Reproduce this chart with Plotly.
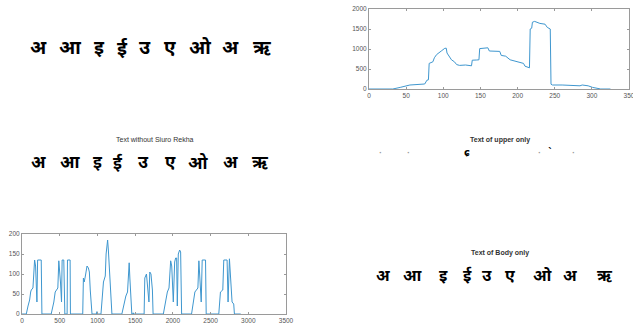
import plotly.graph_objects as go

W, H = 633, 329

# ---------- data ----------
letters = ["अ", "आ", "इ", "ई", "उ", "ए", "ओ", "अ", "ऋ"]

# column-sum profile (top right)
tr_x = [0, 32, 42, 52, 55, 75, 78, 80, 81, 86, 88, 91, 95, 98, 102, 104, 105, 108, 111, 115,
        118, 122, 130, 138, 139, 145, 148, 149, 155, 160, 162, 176, 178, 184, 190, 197, 203, 208,
        210, 214, 216, 217, 219, 220, 223, 230, 237, 240, 243, 244, 245, 247, 260, 284, 287, 295,
        301, 307, 312, 325]
tr_y = [0, 0, 40, 75, 100, 125, 220, 230, 640, 680, 780, 860, 930, 960, 1017, 1020, 900, 820, 730, 680,
        610, 590, 600, 580, 720, 725, 730, 1010, 1020, 1030, 950, 940, 840, 820, 730, 700, 670, 640,
        570, 540, 530, 1500, 1520, 1670, 1690, 1640, 1620, 1540, 1520, 1500, 120, 100, 100, 80, 100, 80,
        40, 20, 0, 0]

# row profile of text (bottom left)
bl_x = [0, 57, 80, 101, 115, 123, 145, 160, 167, 180, 198, 207, 255, 264,
        387, 422, 440, 475, 488, 510, 524, 532, 554, 568, 598, 603, 638, 642,
        805, 814, 825, 840, 862, 880, 893, 905, 928, 985, 994, 1000,
        1047, 1080, 1091, 1104, 1115, 1135, 1145, 1157, 1165, 1192,
        1324, 1355, 1377, 1399, 1410, 1421, 1430, 1456, 1470, 1474, 1480,
        1619, 1628, 1650, 1672, 1683, 1694, 1710, 1729, 1738,
        1874, 1905, 1927, 1949, 1971, 1985, 2006, 2024, 2037, 2050, 2059, 2072, 2090, 2103, 2116,
        2248, 2270, 2292, 2332, 2345, 2376, 2389, 2433, 2442,
        2609, 2631, 2662, 2675, 2719, 2732, 2750, 2785, 2807, 2816, 2900]
bl_y = [0, 0, 20, 35, 55, 60, 65, 100, 135, 120, 30, 135, 135, 0,
        0, 30, 55, 65, 133, 80, 30, 135, 135, 0, 0, 135, 135, 0,
        0, 90, 80, 95, 120, 115, 105, 60, 0, 0, 6, 0,
        0, 80, 90, 95, 150, 185, 160, 120, 100, 0,
        0, 30, 45, 55, 90, 128, 90, 0, 0, 3, 0,
        0, 90, 100, 35, 30, 105, 100, 60, 0,
        0, 30, 55, 65, 133, 120, 30, 130, 140, 140, 20, 150, 160, 155, 0,
        0, 30, 55, 65, 133, 30, 135, 135, 0,
        0, 55, 60, 135, 135, 30, 138, 30, 25, 0, 0]

tr_xticks = [0, 50, 100, 150, 200, 250, 300, 350]
tr_yticks = [0, 500, 1000, 1500, 2000]
bl_xticks = [0, 500, 1000, 1500, 2000, 2500, 3000, 3500]
bl_yticks = [0, 50, 100, 150, 200]

titles = ["Text without Siuro Rekha", "Text of upper only", "Text of Body only"]
upper_marks = ["·", "·", "ɕ", "·", "ˋ", "·"]


def px(x):
    return x / W


def py(y):
    return 1 - y / H


LINE = "#3f97cf"
AX = "#9a9a9a"

fig = go.Figure()
fig.add_trace(go.Scatter(x=tr_x, y=tr_y, mode="lines", line=dict(color=LINE, width=1),
                         xaxis="x", yaxis="y", showlegend=False))
fig.add_trace(go.Scatter(x=bl_x, y=bl_y, mode="lines", line=dict(color=LINE, width=1),
                         xaxis="x2", yaxis="y2", showlegend=False))

axcommon = dict(showgrid=False, zeroline=False, showline=True, linecolor=AX, linewidth=1,
                mirror="ticks", ticks="inside", ticklen=2, tickcolor=AX, automargin=False,
                ticklabeloverflow="allow",
                tickfont=dict(size=6.5, color="#555", family="Liberation Sans"))

fig.update_layout(
    width=W, height=H, margin=dict(l=0, r=0, t=0, b=0, autoexpand=False),
    paper_bgcolor="white", plot_bgcolor="white",
    xaxis=dict(domain=[px(369), px(629)], anchor="y", range=[0, 350], tickvals=tr_xticks, **axcommon),
    yaxis=dict(domain=[py(89), py(9)], anchor="x", range=[0, 2000], tickvals=tr_yticks, **axcommon),
    xaxis2=dict(domain=[px(22), px(286)], anchor="y2", range=[0, 3500], tickvals=bl_xticks, **axcommon),
    yaxis2=dict(domain=[py(314), py(234)], anchor="x2", range=[0, 200], tickvals=bl_yticks, **axcommon),
)

DEV = "Noto Sans Devanagari, Noto Sans, Lohit Devanagari, sans-serif"


def text(x, y, s, size, color="black", family=DEV, bold=True):
    fig.add_annotation(x=px(x), y=py(y), xref="paper", yref="paper",
                       xanchor="center", yanchor="middle",
                       text=("<b>" + s + "</b>") if bold else s, showarrow=False,
                       font=dict(size=size, color=color, family=family))


# original text (top left)
row1_x = [38, 70, 99, 122, 145, 170, 200, 230, 262]
for lx, ch in zip(row1_x, letters):
    text(lx, 50, ch, 19)

# without shirorekha (middle left)
text(155, 140, titles[0], 7, "#333", "Liberation Sans", bold=False)
row2_x = [38, 70, 98, 118, 143, 170, 198, 230, 260]
for lx, ch in zip(row2_x, letters):
    text(lx, 164, ch, 17)

# upper only (middle right)
text(500, 140, titles[1], 7, "#333", "Liberation Sans")
mark_x = [380, 408, 467, 539, 550, 573]
for mx, mk in zip(mark_x, upper_marks):
    big = mk != "·"
    text(mx, 153, mk, 10 if big else 7, "black" if big else "#999", "DejaVu Sans")

# body only (bottom right)
text(500, 253, titles[2], 7, "#333", "Liberation Sans")
row3_x = [383, 412, 443, 467, 487, 510, 542, 570, 605]
for lx, ch in zip(row3_x, letters):
    text(lx, 277, ch, 16)

fig.write_html("out.html", config={"displayModeBar": False},
               post_script="document.body.style.margin='0';document.body.style.overflow='hidden';")
